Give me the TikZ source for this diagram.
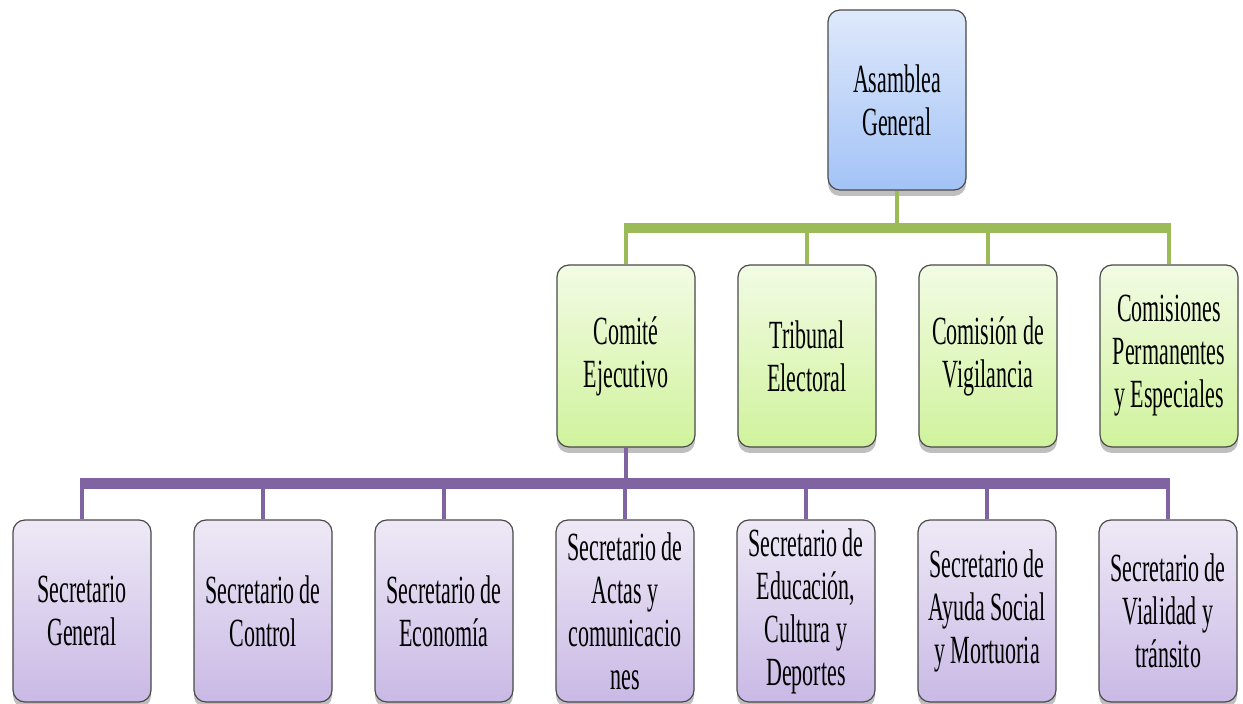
\documentclass[tikz,border=0pt]{standalone}
\usepackage{fontspec}
\newfontfamily\boxfont[FakeStretch=0.55]{Liberation Serif}
\usetikzlibrary{shadows}
\definecolor{blueT}{HTML}{DEE9FB}
\definecolor{blueB}{HTML}{A3C3F6}
\definecolor{greenT}{HTML}{F2FBE4}
\definecolor{greenB}{HTML}{D0F39C}
\definecolor{purT}{HTML}{EEE9F6}
\definecolor{purB}{HTML}{C9B9E5}
\definecolor{gline}{HTML}{9BBB59}
\definecolor{pline}{HTML}{8064A2}
\definecolor{bord}{HTML}{4A4A4A}
\tikzset{
  orgbox/.style={draw=bord, line width=0.6pt, rounded corners=6pt,
    minimum width=69pt, minimum height=91pt, inner sep=0pt, align=center,
    font=\boxfont\fontsize{20}{21.5}\selectfont,
    drop shadow={shadow xshift=0pt, shadow yshift=-3pt, opacity=0.25, fill=black}},
  bluebox/.style={orgbox, top color=blueT, bottom color=blueB},
  greenbox/.style={orgbox, top color=greenT, bottom color=greenB},
  purbox/.style={orgbox, top color=purT, bottom color=purB},
  gthin/.style={draw=gline, line width=2pt},
  gthick/.style={draw=gline, line width=5pt},
  pthin/.style={draw=pline, line width=2pt},
  pthick/.style={draw=pline, line width=5.5pt},
}
\begin{document}
\begin{tikzpicture}[x=0.5pt, y=-0.5pt]
\useasboundingbox (0,0) rectangle (1243,704);
\fill[white] (0,0) rectangle (1243,704);
\coordinate (gbar) at (0,228);
\coordinate (pbar) at (0,484);
% connectors drawn first (behind boxes)
\path (897,100) coordinate (asamC);
\path (626,356) coordinate (c1C) (807,356) coordinate (c2C) (988,356) coordinate (c3C) (1169,356) coordinate (c4C);
\path (82,611) coordinate (s1C) (263,611) coordinate (s2C) (444,611) coordinate (s3C) (625,611) coordinate (s4C)
      (806,611) coordinate (s5C) (987,611) coordinate (s6C) (1168,611) coordinate (s7C);
% boxes
\node[bluebox, minimum height=90pt] (asam) at (asamC) {Asamblea\\General};
\node[greenbox] (c1) at (c1C) {Comité\\Ejecutivo};
\node[greenbox] (c2) at (c2C) {Tribunal\\Electoral};
\node[greenbox] (c3) at (c3C) {Comisión de\\Vigilancia};
\node[greenbox] (c4) at (c4C) {Comisiones\\Permanentes\\y Especiales};
\node[purbox] (s1) at (s1C) {Secretario\\General};
\node[purbox] (s2) at (s2C) {Secretario de\\Control};
\node[purbox] (s3) at (s3C) {Secretario de\\Economía};
\node[purbox] (s4) at (s4C) {Secretario de\\Actas y\\comunicacio\\nes};
\node[purbox] (s5) at (s5C) {Secretario de\\Educación,\\Cultura y\\Deportes};
\node[purbox] (s6) at (s6C) {Secretario de\\Ayuda Social\\y Mortuoria};
\node[purbox] (s7) at (s7C) {Secretario de\\Vialidad y\\tránsito};
% green connectors
\draw[gthin] (asam.south) -- (asam.south |- gbar);
\draw[gthick] ([xshift=-1pt]c1.north |- gbar) -- ([xshift=1pt]c4.north |- gbar);
\foreach \n in {c1,c2,c3,c4} \draw[gthin] (\n.north |- gbar) -- (\n.north);
% purple connectors
\draw[pthin] (c1.south) -- (c1.south |- pbar);
\draw[pthick] ([xshift=-1pt]s1.north |- pbar) -- ([xshift=1pt]s7.north |- pbar);
\foreach \n in {s1,s2,s3,s4,s5,s6,s7} \draw[pthin] (\n.north |- pbar) -- (\n.north);
\end{tikzpicture}
\end{document}
